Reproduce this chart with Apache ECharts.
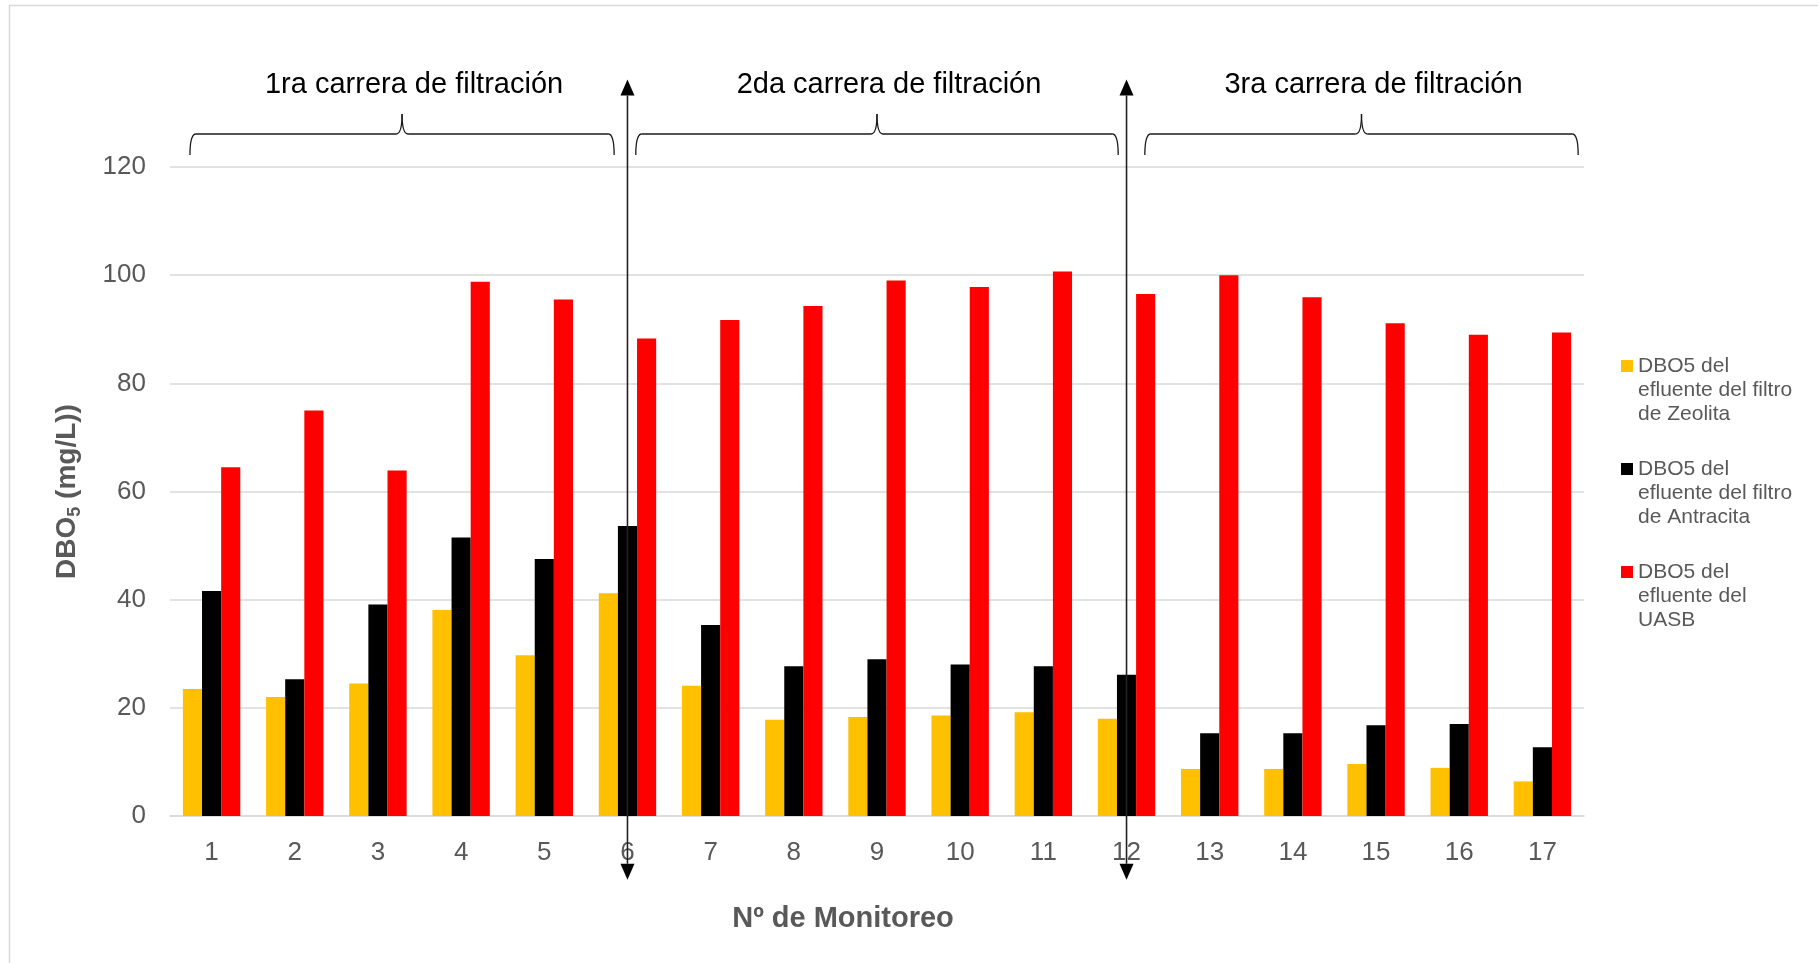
<!DOCTYPE html>
<html>
<head>
<meta charset="utf-8">
<script src="https://cdn.jsdelivr.net/npm/echarts@6/dist/echarts.min.js"></script>
<style>
  html, body { margin: 0; padding: 0; background: #ffffff; }
  #chart { width: 1818px; height: 963px; }
</style>
</head>
<body>
<div id="chart"></div>
<script>
// Monitoring rounds
const categories = ['1','2','3','4','5','6','7','8','9','10','11','12','13','14','15','16','17'];

// DBO5 (mg/L) per monitoring round
const zeolita    = [23.5, 22.0, 24.5, 38.1, 29.7, 41.2, 24.1, 17.8, 18.3, 18.6, 19.2, 18.0, 8.7, 8.7, 9.6, 8.9, 6.4];
const antracita  = [41.6, 25.3, 39.1, 51.5, 47.5, 53.6, 35.3, 27.7, 29.0, 28.0, 27.7, 26.1, 15.3, 15.3, 16.8, 17.0, 12.7];
const uasb       = [64.5, 75.0, 63.9, 98.8, 95.5, 88.3, 91.7, 94.3, 99.0, 97.8, 100.7, 96.5, 100.0, 95.9, 91.1, 89.0, 89.4];

const seriesNames = [
  'DBO5 del\nefluente del filtro\nde Zeolita',
  'DBO5 del\nefluente del filtro\nde Antracita',
  'DBO5 del\nefluente del\nUASB'
];

// Filtration runs: label and span in category units, plus the rounds where a run ends
const stageLabels = ['1ra carrera de filtración', '2da carrera de filtración', '3ra carrera de filtración'];
const stageSpans = [[-0.26, 4.84], [5.10, 10.90], [11.22, 16.43]];
const dividerCategories = ['6', '12'];

const yTicks = { min: 0, max: 120, interval: 20 };

const chart = echarts.init(document.getElementById('chart'), null, { renderer: 'canvas' });

const grey = '#595959';
const font = '"Liberation Sans", Arial, sans-serif';

chart.setOption({
  backgroundColor: '#ffffff',
  animation: false,
  textStyle: { fontFamily: font },
  grid: { left: 170, right: 234, top: 167, bottom: 147, containLabel: false },
  legend: {
    orient: 'vertical',
    left: 1621,
    top: 306,
    padding: 0,
    itemGap: -17,
    itemWidth: 12,
    itemHeight: 12,
    icon: 'rect',
    selectedMode: false,
    // two empty leading lines keep the square level with the first text line
    formatter: (name) => '\n\n' + name,
    textStyle: { color: grey, fontSize: 21, lineHeight: 24, fontFamily: font }
  },
  xAxis: {
    type: 'category',
    data: categories,
    name: 'Nº de Monitoreo',
    nameLocation: 'middle',
    nameGap: 88,
    nameTextStyle: { color: grey, fontSize: 29, fontWeight: 'bold', padding: [0, 68, 0, 0], fontFamily: font },
    axisLine: { lineStyle: { color: '#d9d9d9', width: 1.5 } },
    axisTick: { show: false },
    axisLabel: { color: grey, fontSize: 26, margin: 24, fontFamily: font }
  },
  yAxis: {
    type: 'value',
    min: yTicks.min,
    max: yTicks.max,
    interval: yTicks.interval,
    name: '{b|DBO}{s|5}{b| (mg/L))}',
    nameLocation: 'middle',
    nameGap: 86,
    nameRotate: 90,
    nameTextStyle: {
      rich: {
        b: { color: grey, fontSize: 28, fontWeight: 'bold', lineHeight: 34, fontFamily: font },
        s: { color: grey, fontSize: 18, fontWeight: 'bold', lineHeight: 20, verticalAlign: 'bottom', fontFamily: font }
      }
    },
    axisLine: { show: false },
    axisTick: { show: false },
    axisLabel: { color: grey, fontSize: 26, margin: 24, fontFamily: font },
    splitLine: { lineStyle: { color: '#d9d9d9', width: 1.5 } }
  },
  series: [
    { name: seriesNames[0], type: 'bar', data: zeolita,   itemStyle: { color: '#FFC000' }, barGap: '0%', barCategoryGap: '31%' },
    { name: seriesNames[1], type: 'bar', data: antracita, itemStyle: { color: '#000000' }, barGap: '0%', barCategoryGap: '31%' },
    { name: seriesNames[2], type: 'bar', data: uasb,      itemStyle: { color: '#FF0000' }, barGap: '0%', barCategoryGap: '31%' }
  ]
});

// Annotation layer: braces over each filtration run and the divider arrows between runs
const px = (i) => {
  const p0 = chart.convertToPixel({ xAxisIndex: 0 }, 0);
  const p1 = chart.convertToPixel({ xAxisIndex: 0 }, 1);
  return p0 + i * (p1 - p0);
};
const py = (v) => chart.convertToPixel({ yAxisIndex: 0 }, v);

const braceTip = py(129.8), braceLine = py(126.1), braceEnd = py(122.2);
const labelY = py(135.2);
const arrowTop = py(136.2), arrowBottom = py(-11.8);

const graphics = [];
const braceStyle = { fill: null, stroke: '#1a1a1a', lineWidth: 1.3 };

// light frame around the whole figure
graphics.push({
  type: 'rect', silent: true, z: -1,
  shape: { x: 9.5, y: 5.5, width: 1830, height: 980 },
  style: { fill: null, stroke: '#d9d9d9', lineWidth: 1.5 }
});

const curve = (xa, ya, xb, yb, cx, cy) => ({
  type: 'bezierCurve', silent: true,
  shape: { x1: xa, y1: ya, x2: xb, y2: yb, cpx1: cx, cpy1: cy },
  style: braceStyle
});
const seg = (xa, ya, xb, yb) => ({
  type: 'line', silent: true,
  shape: { x1: xa, y1: ya, x2: xb, y2: yb },
  style: braceStyle
});

stageSpans.forEach((span, k) => {
  const x0 = px(span[0]), x1 = px(span[1]);
  const tip = (x0 + x1) / 2;
  const r = 6;
  graphics.push(curve(x0, braceEnd, x0 + r, braceLine, x0, braceLine));
  graphics.push(seg(x0 + r, braceLine, tip - r, braceLine));
  graphics.push(curve(tip - r, braceLine, tip, braceTip, tip, braceLine));
  graphics.push(curve(tip, braceTip, tip + r, braceLine, tip, braceLine));
  graphics.push(seg(tip + r, braceLine, x1 - r, braceLine));
  graphics.push(curve(x1 - r, braceLine, x1, braceEnd, x1, braceLine));
  graphics.push({
    type: 'text', silent: true,
    x: tip + 12, y: labelY,
    style: {
      text: stageLabels[k], fill: '#000000', font: `29px ${font}`,
      align: 'center', verticalAlign: 'middle'
    }
  });
});

dividerCategories.forEach((c) => {
  const x = chart.convertToPixel({ xAxisIndex: 0 }, c);
  const h = 16, w = 7;
  graphics.push({
    type: 'line', silent: true, z: 10,
    shape: { x1: x, y1: arrowTop + h, x2: x, y2: arrowBottom - h },
    style: { stroke: '#222222', lineWidth: 1.6 }
  });
  graphics.push({
    type: 'polygon', silent: true, z: 10,
    shape: { points: [[x, arrowTop], [x - w, arrowTop + h], [x + w, arrowTop + h]] },
    style: { fill: '#000000' }
  });
  graphics.push({
    type: 'polygon', silent: true, z: 10,
    shape: { points: [[x, arrowBottom], [x - w, arrowBottom - h], [x + w, arrowBottom - h]] },
    style: { fill: '#000000' }
  });
});

chart.setOption({ graphic: graphics });
</script>
</body>
</html>
